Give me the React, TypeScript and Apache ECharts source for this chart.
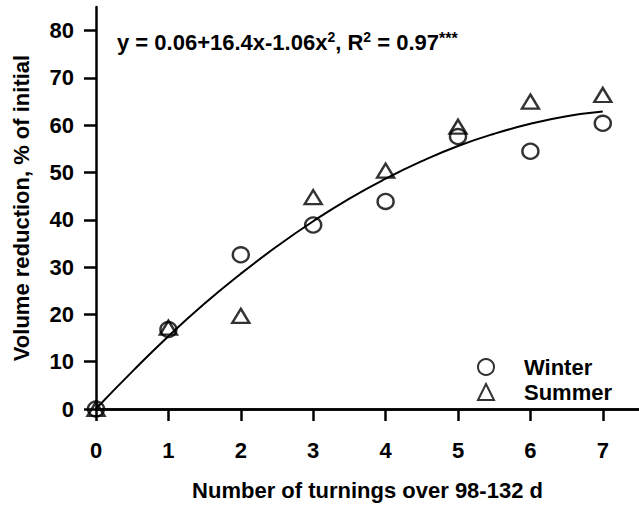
import React, { useEffect, useRef } from "react";
import * as echarts from "echarts";

const turnings = [0, 1, 2, 3, 4, 5, 6, 7];
const winter = [0, 16.8, 32.6, 38.9, 43.9, 57.6, 54.5, 60.4];
const summer = [0, 17.2, 19.7, 44.8, 50.4, 59.7, 65.0, 66.4];
const fitX = [0, 0.5, 1, 1.5, 2, 2.5, 3, 3.5, 4, 4.5, 5, 5.5, 6, 6.5, 7];
const fitY = [0.06, 7.9, 15.4, 22.3, 28.6, 34.4, 39.7, 44.5, 48.7, 52.4, 55.6, 58.2, 60.3, 61.9, 62.9];
const yTicks = [0, 10, 20, 30, 40, 50, 60, 70, 80];
const xTicks = [0, 1, 2, 3, 4, 5, 6, 7];

const FONT = "'Liberation Sans', Arial, sans-serif";

export default function App() {
  const ref = useRef<HTMLDivElement>(null);
  useEffect(() => {
    const chart = echarts.init(ref.current!, null, { renderer: "svg" });
    const axisLineStyle = { color: "#000", width: 2.5 };
    const labelStyle = { color: "#000", fontFamily: FONT, fontWeight: "bold" as const, fontSize: 22 };
    chart.setOption({
      animation: false,
      backgroundColor: "#fff",
      grid: { left: 96, top: 7, right: 0, bottom: 89, containLabel: false },
      xAxis: [
        {
          type: "value",
          min: 0,
          max: 7.5,
          interval: 1,
          name: "Number of turnings over 98-132 d",
          nameLocation: "middle",
          nameGap: 70,
          nameTextStyle: { ...labelStyle },
          axisLine: { show: true, onZero: false, lineStyle: axisLineStyle },
          axisTick: { show: true, length: 12, lineStyle: { color: "#000", width: 2.5 }, customValues: xTicks },
          axisLabel: { ...labelStyle, margin: 30, customValues: xTicks },
          splitLine: { show: false },
        },
        {
          type: "value",
          position: "top",
          min: 0,
          max: 7.5,
          axisLine: { show: true, lineStyle: axisLineStyle },
          axisTick: { show: false },
          axisLabel: { show: false },
          splitLine: { show: false },
        },
      ],
      yAxis: {
        type: "value",
        min: 0,
        max: 85,
        interval: 10,
        name: "Volume reduction, % of initial",
        nameLocation: "middle",
        nameGap: 64,
        nameTextStyle: { ...labelStyle },
        axisLine: { show: true, onZero: false, lineStyle: axisLineStyle },
        axisTick: { show: true, length: 12, lineStyle: { color: "#000", width: 2.5 }, customValues: yTicks },
        axisLabel: { ...labelStyle, margin: 22, customValues: yTicks },
        splitLine: { show: false },
      },
      legend: {
        orient: "vertical",
        left: 472,
        top: 351,
        itemWidth: 16,
        itemHeight: 16,
        itemGap: 3,
        textStyle: { ...labelStyle, padding: [0, 0, 0, 25] },
        data: ["Winter", "Summer"],
      },
      graphic: [
        {
          type: "text",
          left: 117,
          top: 30,
          style: {
            text: "{b|y = 0.06+16.4x-1.06x}{s|2}{b|, R}{s|2}{b| = 0.97}{a|***}",
            rich: {
              b: { fontFamily: FONT, fontWeight: "bold", fontSize: 22, fill: "#000" },
              s: { fontFamily: FONT, fontWeight: "bold", fontSize: 14, fill: "#000", verticalAlign: "top", padding: [0, 0, 10, 0] },
              a: { fontFamily: FONT, fontWeight: "bold", fontSize: 16, fill: "#000", verticalAlign: "top", padding: [0, 0, 8, 0] },
            },
          },
        },
      ],
      series: [
        {
          name: "fit",
          type: "line",
          smooth: true,
          showSymbol: false,
          z: 1,
          lineStyle: { color: "#000", width: 2 },
          data: fitX.map((x, i) => [x, fitY[i]]),
        },
        {
          name: "Winter",
          type: "scatter",
          symbol: "circle",
          symbolSize: [16, 15],
          z: 3,
          itemStyle: { color: "rgba(0,0,0,0)", borderColor: "#000", borderWidth: 2.4 },
          data: turnings.map((x, i) => [x, winter[i]]),
        },
        {
          name: "Summer",
          type: "scatter",
          symbol: "triangle",
          symbolSize: [17, 14],
          z: 3,
          itemStyle: { color: "rgba(0,0,0,0)", borderColor: "#000", borderWidth: 2.4 },
          data: turnings.map((x, i) => [x, summer[i]]),
        },
      ],
    });
    return () => chart.dispose();
  }, []);
  return (
    <div
      ref={ref}
      style={{ position: "fixed", left: 0, top: 0, width: 639, height: 506, background: "#fff" }}
    />
  );
}
